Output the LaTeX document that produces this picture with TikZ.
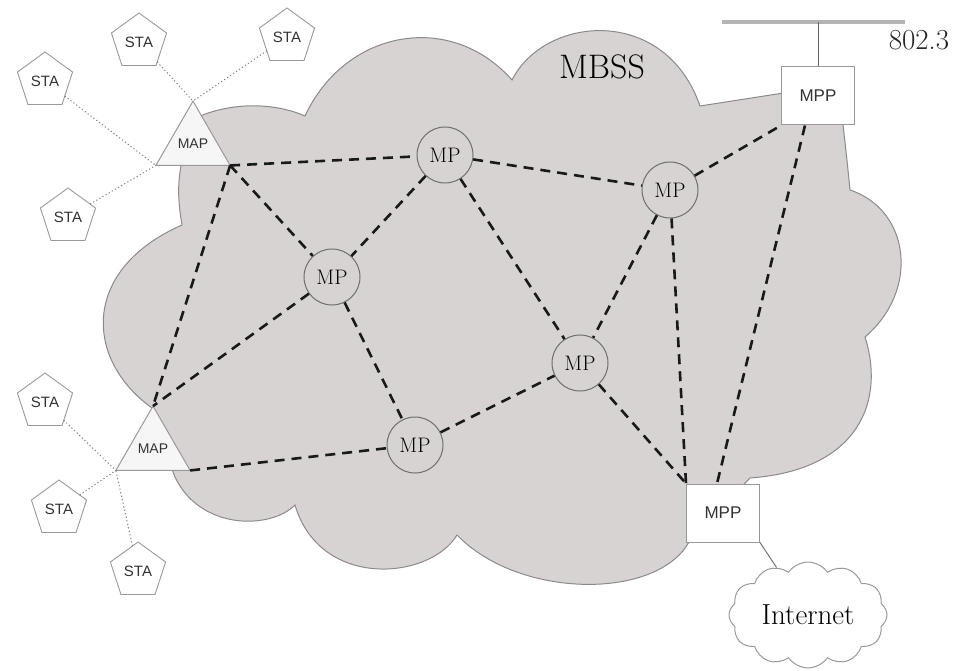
\documentclass[tikz,border=0pt]{standalone}
\usepackage{fontspec}
\usepackage{tikz}
\usetikzlibrary{shapes.geometric,shapes.symbols}
\newfontfamily\labelsans{Liberation Sans}
\definecolor{wmFill}{HTML}{D8D3D3}
\definecolor{wmLine}{HTML}{8A8A8A}
\definecolor{wmEdge}{HTML}{999999}
\definecolor{wmCircle}{HTML}{6E6E6E}
\definecolor{wmText}{HTML}{333333}
\definecolor{wmWhite}{HTML}{F7F6F6}
\definecolor{wmBus}{HTML}{B4B4B4}

\begin{document}
\begin{tikzpicture}[x=1pt,y=-1pt,
    sta/.style={draw=wmEdge, line width=0.9pt, regular polygon, regular polygon sides=5,
                minimum size=58pt, inner sep=0pt, outer sep=0pt, fill=white, text=wmText,
                font=\labelsans\fontsize{15}{15}\selectfont},
    apoint/.style={draw=wmEdge, line width=1pt, regular polygon, regular polygon sides=3,
                minimum size=80pt, inner sep=0pt, outer sep=0pt, fill=wmWhite, text=wmText,
                font=\labelsans\fontsize{14}{14}\selectfont},
    mesh/.style={draw=wmCircle, circle, minimum size=56pt, inner sep=0pt, fill=wmFill,
                line width=1pt, text=black, font=\fontsize{21}{21}\selectfont},
    portal/.style={draw=wmEdge, line width=1pt, fill=white, minimum width=73pt,
                minimum height=58pt, inner sep=0pt, text=wmText,
                font=\labelsans\fontsize{17}{17}\selectfont},
    link/.style={line width=2.6pt, black!90, dash pattern=on 10pt off 7pt},
    assoc/.style={draw=black!50, line width=1pt, dash pattern=on 1.2pt off 2.4pt}]
    \useasboundingbox (0,0) rectangle (959,671);

    \draw[draw=wmLine, fill=wmFill, line width=1pt]
        (182,225) .. controls (176,190) and (176,160) .. (200,116)
        .. controls (240,100) and (280,105) .. (305,116)
        .. controls (345,30) and (450,10) .. (512,80)
        .. controls (545,15) and (665,5) .. (700,106)
        -- (790,92) .. controls (830,88) and (840,100) .. (843,125)
        .. controls (846,150) and (848,170) .. (850,190)
        .. controls (910,210) and (920,290) .. (865,337)
        .. controls (885,400) and (860,470) .. (750,478)
        -- (690,540)
        .. controls (660,600) and (520,600) .. (457,535)
        .. controls (430,580) and (320,590) .. (295,505)
        .. controls (270,530) and (200,530) .. (175,477)
        .. controls (168,460) and (160,430) .. (152,408)
        .. controls (85,360) and (80,270) .. (182,225) -- cycle;
    \node[font=\fontsize{34}{34}\selectfont, text=black] (mbss) at (602,67) {MBSS};

    \node[sta] (sta1) at (45,81)   {STA};
    \node[sta] (sta2) at (139,42)  {STA};
    \node[sta] (sta3) at (287,37)  {STA};
    \node[sta] (sta4) at (68,217)  {STA};
    \node[sta] (sta5) at (45,402)  {STA};
    \node[sta] (sta6) at (59,509)  {STA};
    \node[sta] (sta7) at (138,571) {STA};

    \node[apoint] (mapA) at (193,144) {MAP};
    \node[apoint] (mapB) at (153,449) {MAP};

    \node[mesh] (mp1) at (445,155) {MP};
    \node[mesh] (mp2) at (670,190) {MP};
    \node[mesh] (mp3) at (332,277) {MP};
    \node[mesh] (mp4) at (580,363) {MP};
    \node[mesh] (mp5) at (415,445) {MP};

    \node[portal] (mppA) at (818,96)  {MPP};
    \node[portal] (mppB) at (723,513) {MPP};

    \node[cloud, cloud puffs=12, cloud puff arc=110, cloud ignores aspect, draw=wmEdge,
          line width=1pt, inner sep=0pt, minimum width=158pt, minimum height=106pt,
          text=black, font=\fontsize{29}{29}\selectfont] (inet) at (808,615) {Internet};

    \coordinate (busL) at (722,22);
    \coordinate (busR) at (905,22);
    \coordinate (tap)  at (818,22);
    \node[font=\fontsize{29}{29}\selectfont, text=black!85] (lan) at (919,40) {802.3};
    \draw[line width=4pt, wmBus] (busL) -- (busR);
    \draw[line width=1pt, black!60] (mppA.north) -- (tap);
    \draw[line width=1pt, black!55] (mppB.south east) -- (inet);

    \draw[assoc] (sta1) -- (mapA.corner 2);
    \draw[assoc] (sta4) -- (mapA.corner 2);
    \draw[assoc] (sta2) -- (mapA.corner 1);
    \draw[assoc] (sta3) -- (mapA.corner 1);
    \draw[assoc] (sta5) -- (mapB.corner 2);
    \draw[assoc] (sta6) -- (mapB.corner 2);
    \draw[assoc] (sta7) -- (mapB.corner 2);

    \draw[link] (mapA.corner 3) -- (mp1);
    \draw[link] (mapA.corner 3) -- (mp3);
    \draw[link] (mapA.corner 3) -- (mapB.corner 1);
    \draw[link] (mp1) -- (mp2);
    \draw[link] (mp1) -- (mp3);
    \draw[link] (mp1) -- (mp4);
    \draw[link] (mp2) -- (mppA.south west);
    \draw[link] (mp2) -- (mp4);
    \draw[link] (mp2) -- (mppB.north west);
    \draw[link] (mp3) -- (mapB.corner 1);
    \draw[link] (mp3) -- (mp5);
    \draw[link] (mapB.corner 3) -- (mp5);
    \draw[link] (mp5) -- (mp4);
    \draw[link] (mp4) -- (mppB.north west);
    \draw[link] ([xshift=-13pt]mppA.south) -- ([xshift=-6pt]mppB.north);
\end{tikzpicture}
\end{document}
